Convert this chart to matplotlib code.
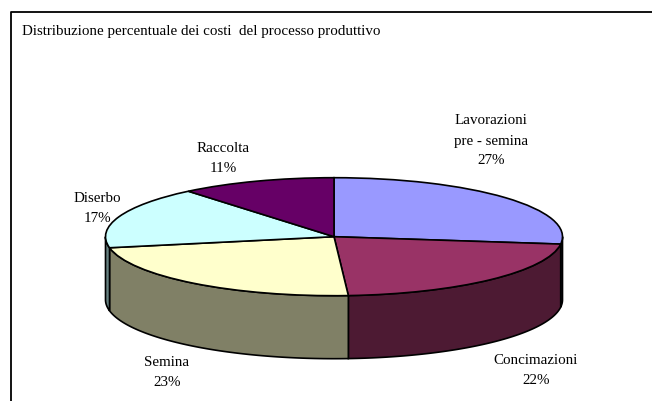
# ---------- 3D-Look Pie: Cost Distribution ----------

import numpy as np
import matplotlib.pyplot as plt

plt.rcParams['font.family'] = ['Liberation Serif', 'DejaVu Serif']

# ----- Data -----

names = ['Lavorazioni\npre - semina', 'Concimazioni', 'Semina', 'Diserbo', 'Raccolta']
shares = [27, 22, 23, 17, 11]
top_colors = ['#9999ff', '#993366', '#ffffcc', '#ccffff', '#660066']
side_colors = ['#4c4c80', '#4d1a33', '#808066', '#668080', '#330033']
title = 'Distribuzione percentuale dei costi  del processo produttivo'

# ----- Layout (pixels) -----

W, H = 652, 401
cx, cy = 334.0, 236.7
rx, ry = 228.5, 59.0
depth = 63.0 / ry

label_px = [(491, 141), (536, 370), (167, 372), (97, 209), (223, 158)]

fig = plt.figure(figsize=(W / 100, H / 100), dpi=100, facecolor='white')
ax = fig.add_axes([0, 0, 1, 1])

# ----- Top Face -----

ax.pie(shares, colors=top_colors, startangle=90, counterclock=False, radius=1,
       wedgeprops={'edgecolor': 'black', 'linewidth': 1.2, 'zorder': 3})

# pie forces equal aspect; squash it so radius 1 is rx by ry pixels
ax.set_aspect('auto')
ax.set_xlim(-cx / rx, (W - cx) / rx)
ax.set_ylim(-(H - cy) / ry, cy / ry)
ax.axis('off')

# ----- Side Wall -----

edges = np.cumsum([0] + shares) * 3.6
for start, end, col in zip(edges[:-1], edges[1:], side_colors):
    # only the front half of the rim is visible
    a0, a1 = max(start, 90), min(end, 270)
    if a0 >= a1:
        continue
    t = np.radians(np.linspace(a0, a1, 80))
    x = np.sin(t)
    y = np.cos(t)
    ax.fill(np.r_[x, x[::-1]], np.r_[y, y[::-1] - depth], facecolor=col,
            edgecolor='black', linewidth=1.2, zorder=2)

# ----- Text -----

def to_data(px, py):
    return (px - cx) / rx, (cy - py) / ry

for name, share, (px, py) in zip(names, shares, label_px):
    tx, ty = to_data(px, py)
    ax.text(tx, ty, f'{name}\n{share}%', ha='center', va='center', fontsize=10.8,
            linespacing=1.7, color='black', zorder=5)

tx, ty = to_data(22, 31.5)
ax.text(tx, ty, title, ha='left', va='center', fontsize=10.8, color='black', zorder=5)

# ----- Chart Frame (left and top edges only) -----

fx = [to_data(11, 401)[0], to_data(11, 12)[0], to_data(652, 12)[0]]
fy = [to_data(11, 401)[1], to_data(11, 12)[1], to_data(652, 12)[1]]
ax.plot(fx, fy, color='black', linewidth=1.3, zorder=1, clip_on=False)

fig.savefig('out.png', dpi=100, facecolor='white')
